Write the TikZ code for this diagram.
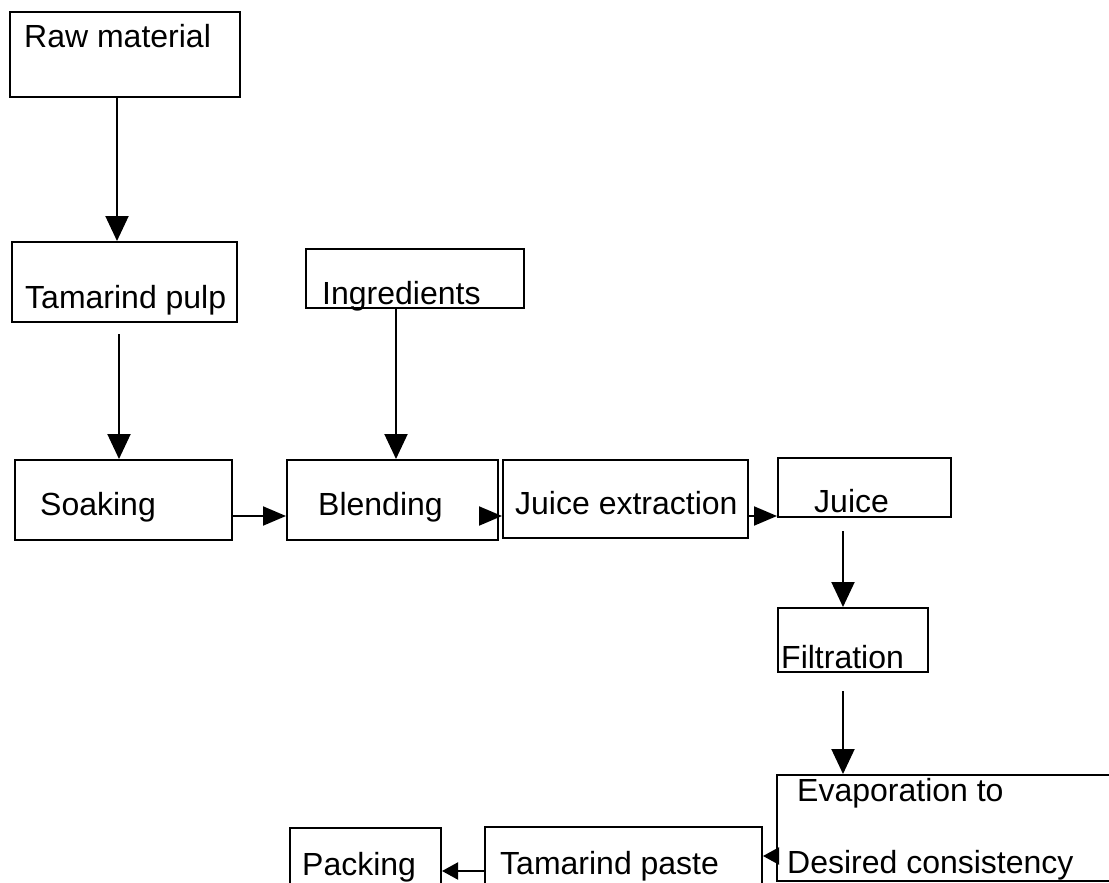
\documentclass[tikz,border=0pt]{standalone}
\usepackage{fontspec}
\setmainfont{Liberation Sans}
\usetikzlibrary{calc,arrows.meta}
\tikzset{
  box/.style={draw, line width=2pt, inner sep=0pt, fill=none},
  txt/.style={anchor=base west, inner sep=0pt, font=\fontsize{32}{37}\selectfont},
  arr/.style={line width=2pt, -{Triangle[length=25pt,width=23pt]}},
  harr/.style={line width=2pt, -{Triangle[length=23pt,width=19pt]}},
  sarr/.style={line width=2pt, -{Triangle[length=16pt,width=17pt]}}
}
\begin{document}
\begin{tikzpicture}[x=1pt,y=-1pt]
\useasboundingbox (0,0) rectangle (1109,883);
\clip (0,0) rectangle (1109,883);
\fill[white] (0,0) rectangle (1109,883);
% boxes
\node[box, minimum width=230pt, minimum height=85pt] (raw) at (125,54.5) {};
\node[box, minimum width=225pt, minimum height=80pt] (pulp) at (124.5,282) {};
\node[box, minimum width=218pt, minimum height=59pt] (ingr) at (415,278.5) {};
\node[box, minimum width=217pt, minimum height=80pt] (soak) at (123.5,500) {};
\node[box, minimum width=211pt, minimum height=80pt] (blend) at (392.5,500) {};
\node[box, minimum width=245pt, minimum height=78pt] (extr) at (625.5,499) {};
\node[box, minimum width=173pt, minimum height=59pt] (juice) at (864.5,487.5) {};
\node[box, minimum width=150pt, minimum height=64pt] (filt) at (853,640) {};
\node[box, minimum width=338pt, minimum height=106pt] (evap) at (946,828) {};
\node[box, minimum width=277pt, minimum height=78pt] (paste) at (623.5,866) {};
\node[box, minimum width=151pt, minimum height=77pt] (pack) at (365.5,866.5) {};
% texts
\node[txt] (traw) at (24,48) {Raw material};
\node[txt] (tpulp) at (25,308) {Tamarind pulp};
\node[txt] (tingr) at (322,304) {Ingredients};
\node[txt] (tsoak) at (40,515) {Soaking};
\node[txt] (tblend) at (318,515) {Blending};
\node[txt] (textr) at (515,514) {Juice extraction};
\node[txt] (tjuice) at (814,512) {Juice};
\node[txt] (tfilt) at (781,668) {Filtration};
\node[txt] (tevap1) at (797,801) {Evaporation to};
\node[txt] (tevap2) at (787,873) {Desired consistency};
\node[txt] (tpaste) at (500,874) {Tamarind paste};
\node[txt] (tpack) at (302,875) {Packing};
% connectors
\draw[arr] ($(raw.south)+(-8,0)$) -- ($(pulp.north)+(-7.5,0)$);
\draw[arr] ($(pulp.south)+(-5.5,11)$) -- ($(soak.north)+(-4.5,0)$);
\draw[arr] ($(ingr.south)+(-19,0)$) -- ($(blend.north)+(3.5,0)$);
\draw[harr] ($(soak.east)+(0,16)$) -- ($(blend.west)+(0,16)$);
\draw[harr] ($(blend.east)+(-18,16)$) -- ($(extr.west)+(0,17)$);
\draw[harr] ($(extr.east)+(0,17)$) -- ($(juice.west)+(0,28.5)$);
\draw[arr] ($(juice.south)+(-21.5,13)$) -- ($(filt.north)+(-10,0)$);
\draw[arr] ($(filt.south)+(-10,18)$) -- ($(evap.north)+(-103,0)$);
\draw[sarr] ($(evap.west)+(0,28)$) -- ($(paste.east)+(0,-10)$);
\draw[sarr] ($(paste.west)+(0,5)$) -- ($(pack.east)+(0,4.5)$);
\end{tikzpicture}
\end{document}
